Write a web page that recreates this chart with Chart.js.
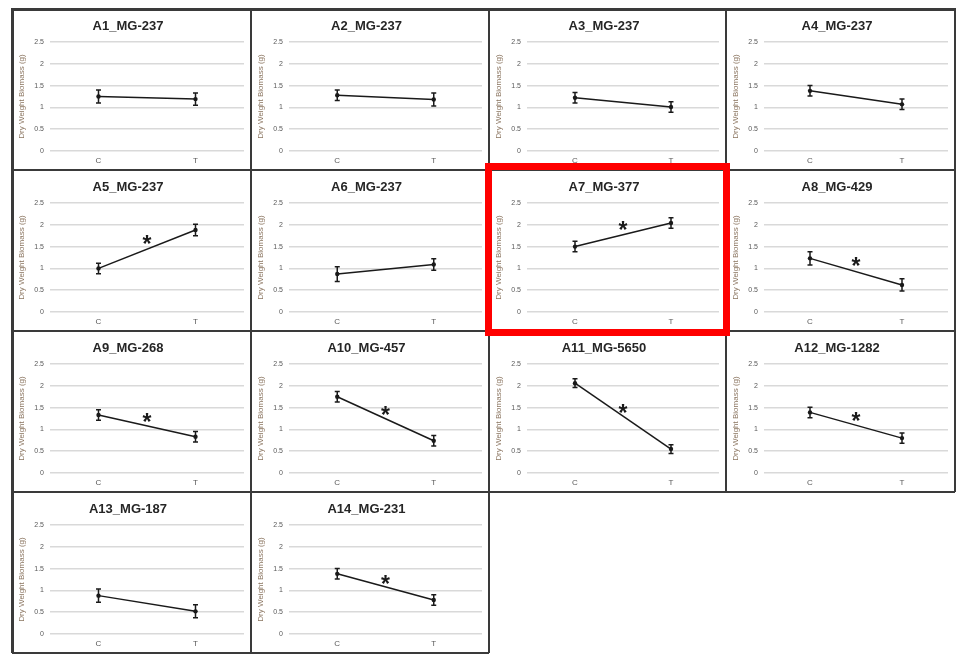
<!DOCTYPE html>
<html>
<head>
<meta charset="utf-8">
<script src="https://cdn.jsdelivr.net/npm/chart.js@4.4.1/dist/chart.umd.min.js"></script>
<style>
  html, body { margin: 0; padding: 0; background: #ffffff; }
  body { width: 957px; height: 654px; position: relative; overflow: hidden; }
  canvas.cell { position: absolute; }
  .ln { position: absolute; background: #3a3a3a; }
  .hl { position: absolute; border: 7px solid #ff0000; box-sizing: border-box; }
</style>
</head>
<body>
<script>
// Panel titles (one per isolate) and the two treatment groups
const panelTitles = [
  'A1_MG-237', 'A2_MG-237', 'A3_MG-237', 'A4_MG-237',
  'A5_MG-237', 'A6_MG-237', 'A7_MG-377', 'A8_MG-429',
  'A9_MG-268', 'A10_MG-457', 'A11_MG-5650', 'A12_MG-1282',
  'A13_MG-187', 'A14_MG-231'
];
const categories = ['C', 'T'];

// Mean dry weight biomass (g) for control and treatment
const meanC = [1.25, 1.28, 1.22, 1.38, 1.00, 0.87, 1.50, 1.23, 1.33, 1.75, 2.06, 1.39, 0.88, 1.38];
const meanT = [1.19, 1.18, 1.01, 1.07, 1.88, 1.09, 2.04, 0.62, 0.83, 0.74, 0.55, 0.80, 0.52, 0.78];

// Error bar half-lengths (g)
const errC = [0.15, 0.12, 0.12, 0.12, 0.12, 0.17, 0.12, 0.15, 0.12, 0.12, 0.10, 0.12, 0.15, 0.12];
const errT = [0.14, 0.15, 0.12, 0.12, 0.13, 0.13, 0.12, 0.14, 0.12, 0.12, 0.10, 0.12, 0.15, 0.12];

// Height of the significance asterisk (null = not significant)
const sigY = [null, null, null, null, 1.65, null, 1.99, 1.15, 1.28, 1.43, 1.47, 1.29, null, 1.24];

const yTitle = 'Dry Weight Biomass (g)';
const FONT = "'Liberation Sans', Arial, sans-serif";

// Grid geometry of the panel sheet
const colX = [12, 251, 489, 726, 955];
const rowY = [9, 170, 331, 492, 653];

// Vertical error bars with short caps
const errorBarPlugin = {
  id: 'errorBars',
  afterDatasetsDraw(chart, args, opts) {
    const ctx = chart.ctx;
    const ys = chart.scales.y;
    const meta = chart.getDatasetMeta(0);
    const vals = chart.data.datasets[0].data;
    ctx.save();
    ctx.strokeStyle = '#1a1a1a';
    ctx.lineWidth = 1.5;
    meta.data.forEach((pt, k) => {
      const e = opts.values[k];
      const top = ys.getPixelForValue(vals[k] + e);
      const bot = ys.getPixelForValue(vals[k] - e);
      ctx.beginPath();
      ctx.moveTo(pt.x, top); ctx.lineTo(pt.x, bot);
      ctx.moveTo(pt.x - 2.5, top); ctx.lineTo(pt.x + 2.5, top);
      ctx.moveTo(pt.x - 2.5, bot); ctx.lineTo(pt.x + 2.5, bot);
      ctx.stroke();
    });
    ctx.restore();
  }
};

// Asterisk marking a significant difference, centred between C and T
const sigPlugin = {
  id: 'sigMark',
  afterDatasetsDraw(chart, args, opts) {
    if (opts.y === null || opts.y === undefined) return;
    const meta = chart.getDatasetMeta(0);
    const x = (meta.data[0].x + meta.data[1].x) / 2;
    const y = chart.scales.y.getPixelForValue(opts.y);
    const ctx = chart.ctx;
    ctx.save();
    ctx.fillStyle = '#1a1a1a';
    ctx.font = 'bold 23px ' + FONT;
    ctx.textAlign = 'center';
    ctx.textBaseline = 'middle';
    ctx.fillText('*', x, y + 6);
    ctx.restore();
  }
};

panelTitles.forEach((title, i) => {
  const c = i % 4, r = Math.floor(i / 4);
  const w = colX[c + 1] - colX[c];
  const h = rowY[r + 1] - rowY[r];
  const cv = document.createElement('canvas');
  cv.className = 'cell';
  cv.width = w; cv.height = h;
  cv.style.left = colX[c] + 'px';
  cv.style.top = rowY[r] + 'px';
  cv.style.width = w + 'px';
  cv.style.height = h + 'px';
  document.body.appendChild(cv);

  new Chart(cv, {
    type: 'line',
    data: {
      labels: categories,
      datasets: [{
        data: [meanC[i], meanT[i]],
        borderColor: '#1a1a1a',
        borderWidth: 1.5,
        pointRadius: 2.2,
        pointBackgroundColor: '#1a1a1a',
        pointBorderWidth: 0,
        tension: 0
      }]
    },
    options: {
      responsive: false,
      animation: false,
      devicePixelRatio: 1,
      layout: { padding: { left: 0, right: 7, top: 0, bottom: 0 } },
      plugins: {
        legend: { display: false },
        tooltip: { enabled: false },
        title: {
          display: true,
          text: title,
          color: '#262626',
          font: { family: FONT, size: 13, weight: 'bold' },
          padding: { top: 10, bottom: 7.4 }
        },
        errorBars: { values: [errC[i], errT[i]] },
        sigMark: { y: sigY[i] }
      },
      scales: {
        x: {
          offset: true,
          grid: { display: false, drawTicks: false },
          border: { display: false },
          ticks: { color: '#595959', font: { family: FONT, size: 8 }, padding: 5 },
          afterFit(scale) { scale.height = 19; }
        },
        y: {
          min: 0,
          max: 2.5,
          ticks: {
            stepSize: 0.5,
            color: '#595959',
            font: { family: FONT, size: 7 },
            padding: 6,
            callback: (v) => String(v)
          },
          grid: { color: '#d9d9d9', lineWidth: 1.5, drawTicks: false },
          border: { display: false },
          title: {
            display: true,
            text: yTitle,
            color: '#8b7560',
            font: { family: FONT, size: 8 },
            padding: { top: 5, bottom: 0 }
          },
          afterFit(scale) { scale.width = 38; }
        }
      }
    },
    plugins: [errorBarPlugin, sigPlugin]
  });
});

// Panel borders
function line(x, y, w, h) {
  const d = document.createElement('div');
  d.className = 'ln';
  d.style.left = x + 'px'; d.style.top = y + 'px';
  d.style.width = w + 'px'; d.style.height = h + 'px';
  document.body.appendChild(d);
}
line(colX[0] - 1, rowY[0] - 1, colX[4] - colX[0] + 2, 3);
line(colX[0], rowY[1] - 1, colX[4] - colX[0], 2);
line(colX[0], rowY[2] - 1, colX[4] - colX[0], 2);
line(colX[0], rowY[3] - 1, colX[4] - colX[0], 2);
line(colX[0], rowY[4] - 1, colX[2] - colX[0], 2);
line(colX[0] - 1, rowY[0] - 1, 3, rowY[4] - rowY[0] + 1);
line(colX[1] - 1, rowY[0], 2, rowY[4] - rowY[0]);
line(colX[2] - 1, rowY[0], 2, rowY[4] - rowY[0]);
line(colX[3] - 1, rowY[0], 2, rowY[3] - rowY[0]);
line(colX[4] - 1, rowY[0], 2, rowY[3] - rowY[0]);

// Highlight frame around the A7 panel
const hl = document.createElement('div');
hl.className = 'hl';
hl.style.left = '485px'; hl.style.top = '163px';
hl.style.width = '245px'; hl.style.height = '173px';
document.body.appendChild(hl);
</script>
</body>
</html>
